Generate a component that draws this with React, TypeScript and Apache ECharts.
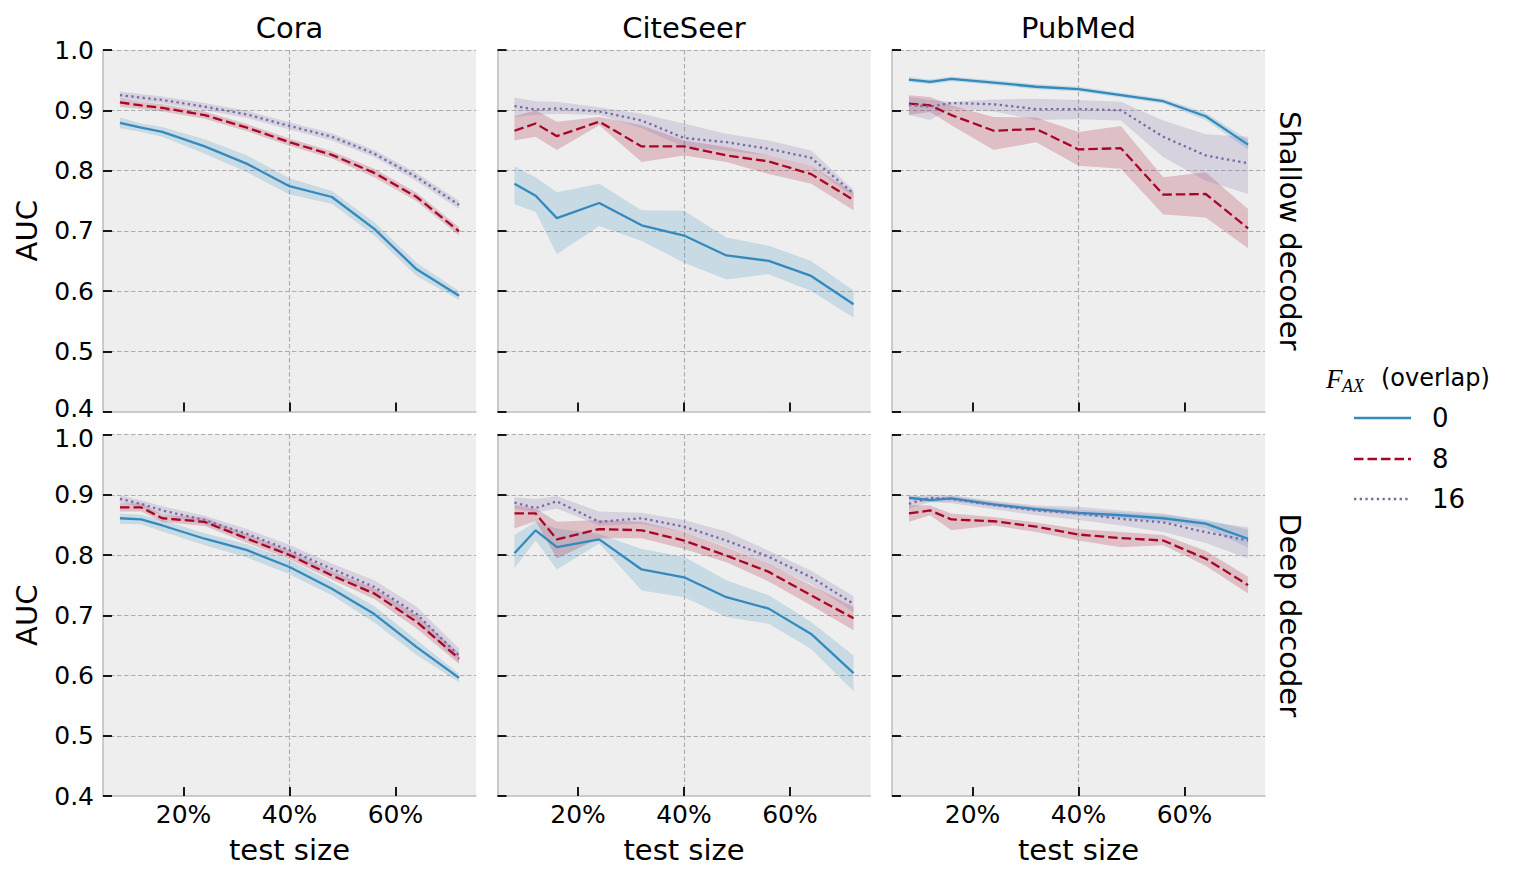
import { useEffect, useRef } from "react";
import * as echarts from "echarts";

// Test-set fraction (%) on the x axis
const testSize = [8, 12, 16, 24, 32, 40, 48, 56, 64, 72];
const xTicks = [20, 40, 60];
const overlaps = ["0", "8", "16"];
const datasets = ["Cora", "CiteSeer", "PubMed"];
const decoders = ["Shallow decoder", "Deep decoder"];

// ---- Shallow decoder ----
const coraShallow0 = [0.879, 0.871, 0.864, 0.840, 0.811, 0.774, 0.756, 0.703, 0.636, 0.592];
const coraShallow0Lo = [0.870, 0.864, 0.856, 0.828, 0.797, 0.760, 0.745, 0.692, 0.625, 0.585];
const coraShallow0Hi = [0.888, 0.878, 0.872, 0.852, 0.825, 0.787, 0.766, 0.714, 0.647, 0.600];
const coraShallow8 = [0.913, 0.908, 0.904, 0.892, 0.871, 0.847, 0.826, 0.796, 0.756, 0.699];
const coraShallow8Lo = [0.906, 0.902, 0.898, 0.886, 0.865, 0.841, 0.820, 0.789, 0.749, 0.692];
const coraShallow8Hi = [0.920, 0.914, 0.910, 0.898, 0.877, 0.853, 0.832, 0.803, 0.763, 0.706];
const coraShallow16 = [0.925, 0.921, 0.917, 0.906, 0.893, 0.874, 0.856, 0.828, 0.789, 0.743];
const coraShallow16Lo = [0.919, 0.915, 0.911, 0.900, 0.887, 0.868, 0.850, 0.822, 0.782, 0.736];
const coraShallow16Hi = [0.931, 0.927, 0.923, 0.912, 0.899, 0.880, 0.862, 0.834, 0.796, 0.750];

const citeShallow0 = [0.778, 0.758, 0.721, 0.746, 0.709, 0.692, 0.659, 0.650, 0.625, 0.578];
const citeShallow0Lo = [0.744, 0.731, 0.661, 0.708, 0.683, 0.647, 0.619, 0.628, 0.600, 0.556];
const citeShallow0Hi = [0.807, 0.789, 0.764, 0.778, 0.734, 0.733, 0.689, 0.675, 0.650, 0.601];
const citeShallow8 = [0.866, 0.878, 0.857, 0.881, 0.840, 0.840, 0.825, 0.815, 0.794, 0.751];
const citeShallow8Lo = [0.850, 0.856, 0.834, 0.875, 0.814, 0.825, 0.814, 0.794, 0.778, 0.734];
const citeShallow8Hi = [0.890, 0.900, 0.881, 0.889, 0.875, 0.850, 0.839, 0.825, 0.808, 0.764];
const citeShallow16 = [0.907, 0.901, 0.903, 0.898, 0.883, 0.854, 0.847, 0.836, 0.821, 0.762];
const citeShallow16Lo = [0.889, 0.892, 0.894, 0.892, 0.870, 0.839, 0.833, 0.825, 0.808, 0.756];
const citeShallow16Hi = [0.921, 0.915, 0.914, 0.905, 0.894, 0.878, 0.861, 0.850, 0.833, 0.768];

const pubShallow0 = [0.951, 0.947, 0.952, 0.946, 0.939, 0.935, 0.925, 0.915, 0.890, 0.843];
const pubShallow0Lo = [0.947, 0.943, 0.948, 0.942, 0.935, 0.931, 0.921, 0.911, 0.884, 0.835];
const pubShallow0Hi = [0.955, 0.951, 0.956, 0.950, 0.943, 0.939, 0.929, 0.919, 0.896, 0.851];
const pubShallow8 = [0.911, 0.908, 0.892, 0.866, 0.869, 0.835, 0.837, 0.760, 0.761, 0.704];
const pubShallow8Lo = [0.892, 0.897, 0.875, 0.834, 0.847, 0.808, 0.803, 0.727, 0.722, 0.671];
const pubShallow8Hi = [0.925, 0.922, 0.908, 0.889, 0.888, 0.864, 0.874, 0.789, 0.797, 0.736];
const pubShallow16 = [0.909, 0.906, 0.912, 0.910, 0.902, 0.902, 0.900, 0.856, 0.825, 0.812];
const pubShallow16Lo = [0.892, 0.884, 0.903, 0.898, 0.884, 0.885, 0.883, 0.822, 0.783, 0.761];
const pubShallow16Hi = [0.922, 0.917, 0.914, 0.918, 0.919, 0.917, 0.914, 0.883, 0.860, 0.856];

// ---- Deep decoder ----
const coraDeep0 = [0.861, 0.859, 0.849, 0.827, 0.808, 0.780, 0.744, 0.702, 0.647, 0.596];
const coraDeep0Lo = [0.852, 0.851, 0.839, 0.816, 0.796, 0.768, 0.733, 0.688, 0.634, 0.589];
const coraDeep0Hi = [0.869, 0.867, 0.858, 0.836, 0.818, 0.792, 0.755, 0.715, 0.659, 0.603];
const coraDeep8 = [0.879, 0.879, 0.861, 0.855, 0.827, 0.800, 0.766, 0.736, 0.689, 0.628];
const coraDeep8Lo = [0.872, 0.872, 0.855, 0.848, 0.820, 0.793, 0.759, 0.727, 0.678, 0.619];
const coraDeep8Hi = [0.886, 0.886, 0.867, 0.862, 0.834, 0.807, 0.773, 0.745, 0.700, 0.637];
const coraDeep16 = [0.893, 0.885, 0.874, 0.858, 0.835, 0.808, 0.777, 0.747, 0.702, 0.633];
const coraDeep16Lo = [0.887, 0.879, 0.867, 0.851, 0.827, 0.799, 0.768, 0.736, 0.690, 0.622];
const coraDeep16Hi = [0.899, 0.891, 0.881, 0.865, 0.843, 0.817, 0.786, 0.758, 0.714, 0.645];

const citeDeep0 = [0.803, 0.841, 0.813, 0.826, 0.776, 0.763, 0.730, 0.711, 0.669, 0.604];
const citeDeep0Lo = [0.778, 0.824, 0.776, 0.819, 0.741, 0.730, 0.697, 0.686, 0.644, 0.574];
const citeDeep0Hi = [0.833, 0.855, 0.844, 0.835, 0.810, 0.797, 0.758, 0.733, 0.689, 0.633];
const citeDeep8 = [0.869, 0.869, 0.826, 0.843, 0.841, 0.824, 0.799, 0.772, 0.733, 0.695];
const citeDeep8Lo = [0.844, 0.856, 0.794, 0.828, 0.828, 0.810, 0.788, 0.756, 0.716, 0.675];
const citeDeep8Hi = [0.883, 0.877, 0.855, 0.858, 0.855, 0.838, 0.813, 0.785, 0.750, 0.714];
const citeDeep16 = [0.887, 0.878, 0.889, 0.855, 0.861, 0.847, 0.824, 0.797, 0.763, 0.719];
const citeDeep16Lo = [0.877, 0.870, 0.877, 0.849, 0.852, 0.838, 0.814, 0.784, 0.752, 0.705];
const citeDeep16Hi = [0.896, 0.893, 0.898, 0.872, 0.870, 0.858, 0.839, 0.807, 0.774, 0.732];

const pubDeep0 = [0.895, 0.891, 0.894, 0.884, 0.876, 0.870, 0.866, 0.861, 0.852, 0.827];
const pubDeep0Lo = [0.891, 0.887, 0.889, 0.880, 0.872, 0.865, 0.861, 0.855, 0.845, 0.812];
const pubDeep0Hi = [0.899, 0.895, 0.898, 0.888, 0.880, 0.875, 0.871, 0.867, 0.859, 0.842];
const pubDeep8 = [0.869, 0.874, 0.859, 0.856, 0.847, 0.834, 0.828, 0.824, 0.794, 0.750];
const pubDeep8Lo = [0.855, 0.866, 0.841, 0.849, 0.838, 0.824, 0.813, 0.816, 0.782, 0.736];
const pubDeep8Hi = [0.883, 0.882, 0.869, 0.863, 0.854, 0.843, 0.838, 0.833, 0.807, 0.764];
const pubDeep16 = [0.885, 0.895, 0.893, 0.883, 0.874, 0.869, 0.860, 0.854, 0.838, 0.824];
const pubDeep16Lo = [0.877, 0.888, 0.886, 0.876, 0.866, 0.858, 0.849, 0.838, 0.820, 0.794];
const pubDeep16Hi = [0.896, 0.900, 0.899, 0.890, 0.882, 0.880, 0.874, 0.869, 0.856, 0.846];

type Curve = { mean: number[]; lo: number[]; hi: number[] };
const c = (mean: number[], lo: number[], hi: number[]): Curve => ({ mean, lo, hi });

// panels[row][col] -> one curve per overlap level
const panels: Curve[][][] = [
  [
    [c(coraShallow0, coraShallow0Lo, coraShallow0Hi), c(coraShallow8, coraShallow8Lo, coraShallow8Hi), c(coraShallow16, coraShallow16Lo, coraShallow16Hi)],
    [c(citeShallow0, citeShallow0Lo, citeShallow0Hi), c(citeShallow8, citeShallow8Lo, citeShallow8Hi), c(citeShallow16, citeShallow16Lo, citeShallow16Hi)],
    [c(pubShallow0, pubShallow0Lo, pubShallow0Hi), c(pubShallow8, pubShallow8Lo, pubShallow8Hi), c(pubShallow16, pubShallow16Lo, pubShallow16Hi)],
  ],
  [
    [c(coraDeep0, coraDeep0Lo, coraDeep0Hi), c(coraDeep8, coraDeep8Lo, coraDeep8Hi), c(coraDeep16, coraDeep16Lo, coraDeep16Hi)],
    [c(citeDeep0, citeDeep0Lo, citeDeep0Hi), c(citeDeep8, citeDeep8Lo, citeDeep8Hi), c(citeDeep16, citeDeep16Lo, citeDeep16Hi)],
    [c(pubDeep0, pubDeep0Lo, pubDeep0Hi), c(pubDeep8, pubDeep8Lo, pubDeep8Hi), c(pubDeep16, pubDeep16Lo, pubDeep16Hi)],
  ],
];

const COLORS = ["#348ABD", "#A60628", "#7A68A6"];
const DASHES: any[] = ["solid", [9.5, 4], [2.3, 3.4]];
const FONT = "DejaVu Sans";
const COL_LEFT = [103, 497.5, 892];
const COL_W = 373;
const ROW_TOP = [50, 434.5];
const ROW_H = 361.5;
const GRID_LINE = { color: "#acacac", type: [4.5, 2.5], width: 1.1 };
const TICK_FONT = 25;

function rgba(hex: string, a: number) {
  const n = parseInt(hex.slice(1), 16);
  return `rgba(${(n >> 16) & 255},${(n >> 8) & 255},${n & 255},${a})`;
}

function buildOption() {
  const grid: any[] = [];
  const xAxis: any[] = [];
  const yAxis: any[] = [];
  const series: any[] = [];
  let gi = 0;
  for (let r = 0; r < 2; r++) {
    for (let col = 0; col < 3; col++) {
      grid.push({
        left: COL_LEFT[col],
        top: ROW_TOP[r],
        width: COL_W,
        height: ROW_H,
        show: true,
        backgroundColor: "#eeeeee",
        borderWidth: 0,
      });
      xAxis.push({
        gridIndex: gi,
        type: "value",
        min: 4.8,
        max: 75.2,
        minInterval: 20,
        maxInterval: 20,
        axisLine: { show: true, onZero: false, lineStyle: { color: "#bcbcbc", width: 1.5 } },
        axisTick: {
          show: true,
          inside: true,
          length: 9,
          customValues: xTicks,
          lineStyle: { color: "#000", width: 1.8 },
        },
        axisLabel: {
          show: r === 1,
          customValues: xTicks,
          formatter: (v: number) => `${Math.round(v)}%`,
          fontSize: TICK_FONT,
          lineHeight: 22,
          fontFamily: FONT,
          color: "#000",
          margin: 7,
        },
        splitLine: {
          show: true,
          showMinLine: false,
          showMaxLine: false,
          lineStyle: GRID_LINE,
        },
      });
      const rowIdx = r;
      yAxis.push({
        gridIndex: gi,
        type: "value",
        min: 0.4,
        max: 1.0,
        interval: 0.1,
        axisLine: { show: true, onZero: false, lineStyle: { color: "#bcbcbc", width: 1.5 } },
        axisTick: { show: true, inside: true, length: 9, lineStyle: { color: "#000", width: 1.8 } },
        axisLabel: {
          show: col === 0,
          // the two labels where the rows meet are nudged apart a little
          formatter: (v: number) => {
            const s = v.toFixed(1);
            if (rowIdx === 0 && s === "0.4") return `{up|${s}}`;
            if (rowIdx === 1 && s === "1.0") return `{down|${s}}`;
            return s;
          },
          rich: {
            up: { fontSize: TICK_FONT, fontFamily: FONT, color: "#000", padding: [0, 0, 7, 0] },
            down: { fontSize: TICK_FONT, fontFamily: FONT, color: "#000", padding: [7, 0, 0, 0] },
          },
          fontSize: TICK_FONT,
          lineHeight: 20,
          fontFamily: FONT,
          color: "#000",
          margin: 9,
        },
        splitLine: {
          show: true,
          showMinLine: false,
          lineStyle: GRID_LINE,
        },
      });
      const curves = panels[r][col];
      curves.forEach((cv, k) => {
        // confidence band
        series.push({
          type: "custom",
          xAxisIndex: gi,
          yAxisIndex: gi,
          silent: true,
          z: 1,
          clip: true,
          encode: { x: 0, y: [1, 2] },
          data: testSize.map((x, i) => [x, cv.lo[i], cv.hi[i]]),
          renderItem: (params: any, api: any) => {
            if (params.dataIndex !== 0) return null;
            const upper = testSize.map((x, i) => api.coord([x, cv.hi[i]]));
            const lower = testSize.map((x, i) => api.coord([x, cv.lo[i]])).reverse();
            return {
              type: "polygon",
              shape: { points: upper.concat(lower) },
              style: { fill: rgba(COLORS[k], 0.2), stroke: null },
              silent: true,
            };
          },
        });
        // mean line
        series.push({
          type: "line",
          name: overlaps[k],
          xAxisIndex: gi,
          yAxisIndex: gi,
          silent: true,
          z: 3,
          showSymbol: false,
          symbol: "none",
          data: testSize.map((x, i) => [x, cv.mean[i]]),
          lineStyle: { color: COLORS[k], width: 2.3, type: DASHES[k] },
        });
      });
      gi++;
    }
  }

  const textStyle = (text: string, size: number, extra: any = {}) => ({
    text,
    fontSize: size,
    fontFamily: FONT,
    fill: "#000",
    align: "center",
    verticalAlign: "middle",
    ...extra,
  });

  const graphic: any[] = [];
  datasets.forEach((name, col) => {
    graphic.push({ type: "text", x: COL_LEFT[col] + COL_W / 2, y: 28, style: textStyle(name, 29) });
    graphic.push({ type: "text", x: COL_LEFT[col] + COL_W / 2, y: 850, style: textStyle("test size", 29) });
  });
  decoders.forEach((name, r) => {
    const cy = ROW_TOP[r] + ROW_H / 2;
    graphic.push({ type: "text", x: 27, y: cy, rotation: Math.PI / 2, style: textStyle("AUC", 29) });
    graphic.push({ type: "text", x: 1290, y: cy, rotation: -Math.PI / 2, style: textStyle(name, 29) });
  });

  // legend
  graphic.push({
    type: "text",
    x: 1326,
    y: 379,
    style: { text: "F", fontSize: 27, fontFamily: "Liberation Serif", fontStyle: "italic", fill: "#000", align: "left", verticalAlign: "middle" },
  });
  graphic.push({
    type: "text",
    x: 1342,
    y: 386,
    style: { text: "AX", fontSize: 18, fontFamily: "Liberation Serif", fontStyle: "italic", fill: "#000", align: "left", verticalAlign: "middle" },
  });
  graphic.push({
    type: "text",
    x: 1381,
    y: 378,
    style: { text: "(overlap)", fontSize: 24, fontFamily: FONT, fill: "#000", align: "left", verticalAlign: "middle" },
  });
  const legendY = [418, 459, 499];
  overlaps.forEach((lab, k) => {
    graphic.push({
      type: "line",
      shape: { x1: 1354, y1: legendY[k], x2: 1411, y2: legendY[k] },
      style: {
        stroke: COLORS[k],
        lineWidth: 2.3,
        lineDash: k === 0 ? null : DASHES[k],
      },
    });
    graphic.push({
      type: "text",
      x: 1432,
      y: legendY[k],
      style: { text: lab, fontSize: 26, fontFamily: FONT, fill: "#000", align: "left", verticalAlign: "middle" },
    });
  });

  return {
    animation: false,
    backgroundColor: "#ffffff",
    grid,
    xAxis,
    yAxis,
    series,
    graphic,
  };
}

export default function App() {
  const ref = useRef<HTMLDivElement>(null);
  useEffect(() => {
    if (!ref.current) return;
    const chart = echarts.init(ref.current, undefined, { renderer: "svg" });
    chart.setOption(buildOption() as any);
    return () => chart.dispose();
  }, []);
  return (
    <div
      ref={ref}
      style={{ position: "fixed", left: 0, top: 0, width: 1522, height: 883, background: "#fff" }}
    />
  );
}
